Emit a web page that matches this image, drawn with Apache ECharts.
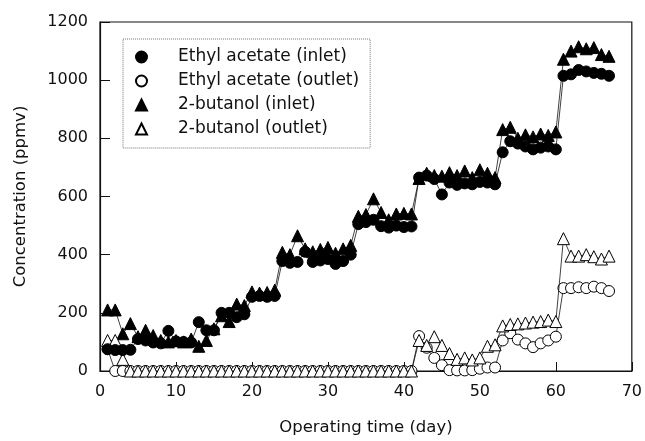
<!DOCTYPE html>
<html>
<head>
<meta charset="utf-8">
<script src="https://cdn.jsdelivr.net/npm/echarts@6/dist/echarts.min.js"></script>
<style>html,body{margin:0;padding:0;background:#fff;}#c{width:645px;height:441px;}</style>
</head>
<body>
<div id="c"></div>
<script>
var days = [1,2,3,4,5,6,7,8,9,10,11,12,13,14,15,16,17,18,19,20,21,22,23,24,25,26,27,28,29,30,31,32,33,34,35,36,37,38,39,40,41,42,43,44,45,46,47,48,49,50,51,52,53,54,55,56,57,58,59,60,61,62,63,64,65,66,67];
var ethylInlet = [75,72,72,73,110,105,98,95,138,102,100,98,168,140,140,200,200,185,195,255,258,255,258,378,372,375,410,375,380,385,368,378,400,505,512,520,498,493,500,495,497,665,672,660,607,648,640,645,642,650,648,642,752,790,782,772,762,768,772,762,1015,1020,1035,1030,1025,1022,1015];
var ethylOutlet = [75,0,0,0,0,0,0,0,0,0,0,0,0,0,0,0,0,0,0,0,0,0,0,0,0,0,0,0,0,0,0,0,0,0,0,0,0,0,0,0,0,120,80,45,20,3,2,2,3,8,12,12,105,130,108,95,82,95,105,118,285,285,288,285,290,285,275];
var butanolInlet = [210,210,128,163,118,140,122,105,100,105,100,110,85,105,145,190,170,230,225,272,268,270,278,408,400,465,420,410,418,425,405,420,432,532,538,592,545,520,540,542,540,662,680,672,670,682,672,688,665,692,680,665,830,838,800,812,805,815,810,822,1072,1100,1115,1108,1112,1088,1082];
var butanolOutlet = [105,105,40,0,0,0,0,0,0,0,0,0,0,0,0,0,0,0,0,0,0,0,0,0,0,0,0,0,0,0,0,0,0,0,0,0,0,0,0,0,0,105,88,118,88,60,40,45,38,45,85,90,155,160,162,165,168,170,175,170,455,395,395,400,393,385,395];
var seriesNames = ['Ethyl acetate (inlet)','Ethyl acetate (outlet)','2-butanol (inlet)','2-butanol (outlet)'];
var xTicks = {min:0, max:70, interval:10};
var yTicks = {min:0, max:1200, interval:200};

function pairs(v){ return days.map(function(d,i){ return [d, v[i]]; }); }

var FONT = 'DejaVu Sans';
var chart = echarts.init(document.getElementById('c'), null, {renderer:'canvas'});
function mk(name, vals, symbol, size, fill, z){
  return {
    name:name, type:'line', data:pairs(vals), symbol:symbol, symbolSize:size,
    showSymbol:true, z:z, animation:false,
    lineStyle:{color:'#111', width:0.8},
    itemStyle:{color:fill, borderColor:'#000', borderWidth:1}
  };
}
chart.setOption({
  backgroundColor:'#fff',
  animation:false,
  grid:{left:100, right:13, top:22, bottom:68, show:true, borderColor:'#111', borderWidth:1.2, backgroundColor:'transparent'},
  legend:{
    orient:'vertical', left:123, top:39,
    padding:[9,11,10,12], itemGap:6,
    itemWidth:11, itemHeight:11,
    borderColor:'#777', borderWidth:1, borderType:'dotted',
    backgroundColor:'#fff',
    data:[
      {name:seriesNames[0], icon:'circle'},
      {name:seriesNames[1], icon:'circle'},
      {name:seriesNames[2], icon:'triangle'},
      {name:seriesNames[3], icon:'triangle'}
    ],
    textStyle:{fontFamily:FONT, fontSize:17, color:'#111', lineHeight:18, padding:[0,0,0,26]}
  },
  xAxis:{
    type:'value', min:xTicks.min, max:xTicks.max, interval:xTicks.interval,
    name:'Operating time (day)', nameLocation:'middle', nameGap:48,
    nameTextStyle:{fontFamily:FONT, fontSize:16.5, color:'#111'},
    axisLine:{show:true, lineStyle:{color:'#111', width:1.2}},
    axisTick:{show:true, inside:true, length:9, lineStyle:{color:'#111'}},
    axisLabel:{fontFamily:FONT, fontSize:16, color:'#111', margin:13, formatter:function(v){return String(v);}},
    splitLine:{show:false}
  },
  yAxis:{
    type:'value', min:yTicks.min, max:yTicks.max, interval:yTicks.interval,
    name:'Concentration (ppmv)', nameLocation:'middle', nameGap:71,
    nameTextStyle:{fontFamily:FONT, fontSize:16.5, color:'#111'},
    axisLine:{show:true, lineStyle:{color:'#111', width:1.2}},
    axisTick:{show:true, inside:true, length:10, lineStyle:{color:'#111'}},
    axisLabel:{fontFamily:FONT, fontSize:16, color:'#111', margin:12, formatter:function(v){return String(v);}},
    splitLine:{show:false}
  },
  series:[
    mk(seriesNames[0], ethylInlet, 'circle', 11, '#000', 4),
    mk(seriesNames[1], ethylOutlet, 'circle', 11, '#fff', 2),
    mk(seriesNames[2], butanolInlet, 'triangle', 12, '#000', 3),
    mk(seriesNames[3], butanolOutlet, 'triangle', 12, '#fff', 3)
  ]
});
</script>
</body>
</html>
